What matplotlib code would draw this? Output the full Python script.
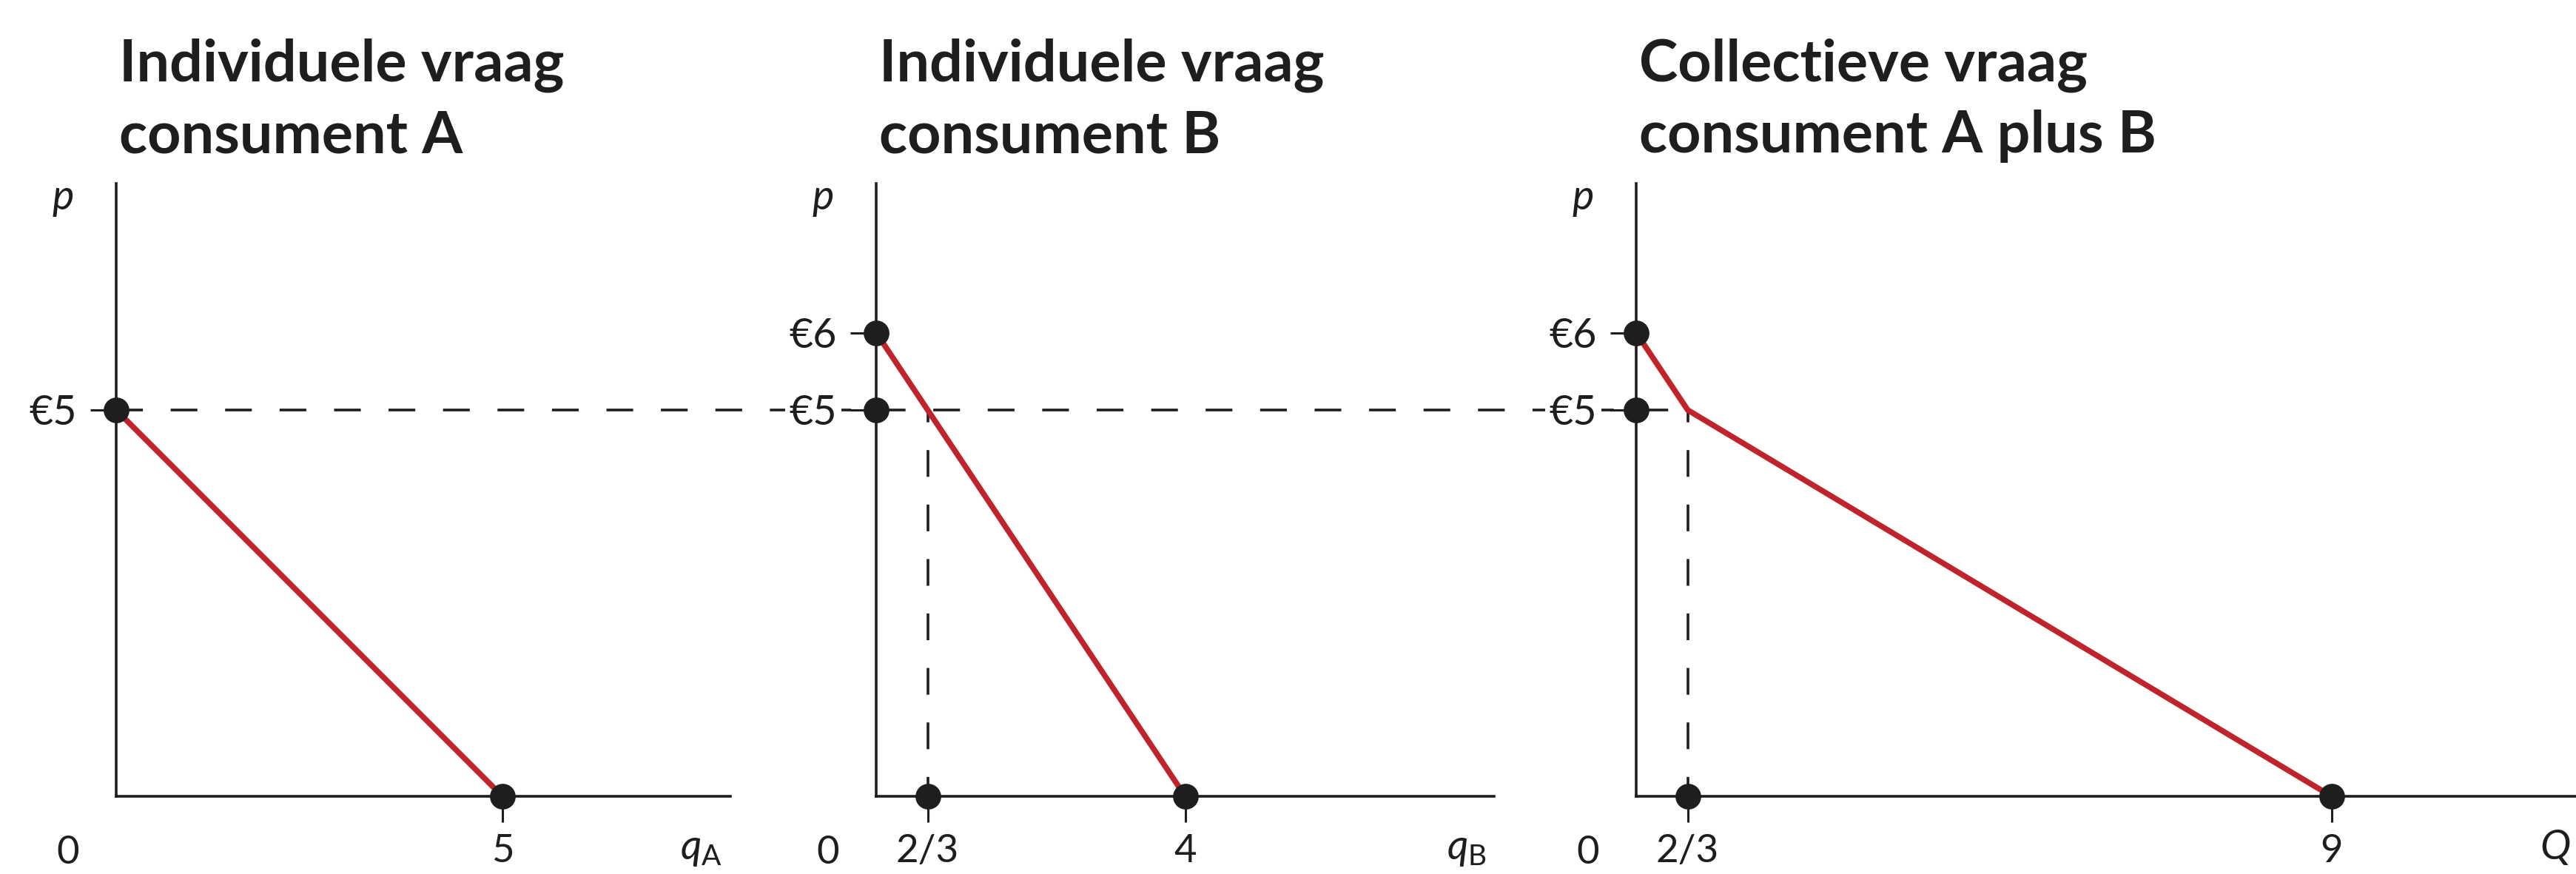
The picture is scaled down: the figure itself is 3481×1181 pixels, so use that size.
"""
Individuele en collectieve vraag: drie panelen naast elkaar.
Consument A, consument B en de horizontale optelling A plus B.
"""

import matplotlib.pyplot as plt
from matplotlib.lines import Line2D

# ─── Data ────────────────────────────────────────────────────────────────────
TITLES = [
    "Individuele vraag\nconsument A",
    "Individuele vraag\nconsument B",
    "Collectieve vraag\nconsument A plus B",
]
Q_NAMES = [r"$q_\mathrm{A}$", r"$q_\mathrm{B}$", r"$Q$"]

# demand curves (quantity, price)
DEMAND_A_Q = [0, 5]
DEMAND_A_P = [5, 0]
DEMAND_B_Q = [0, 4]
DEMAND_B_P = [6, 0]
DEMAND_AB_Q = [0, 2 / 3, 9]
DEMAND_AB_P = [6, 5, 0]

# marked prices on the p-axis
P_TICKS_A = [5]
P_TICKS_B = [6, 5]
P_TICKS_AB = [6, 5]
P_LABELS_A = ["€5"]
P_LABELS_B = ["€6", "€5"]
P_LABELS_AB = ["€6", "€5"]

# marked quantities on the q-axis
Q_TICKS_A = [5]
Q_TICKS_B = [2 / 3, 4]
Q_TICKS_AB = [2 / 3, 9]
Q_LABELS_A = ["5"]
Q_LABELS_B = ["2/3", "4"]
Q_LABELS_AB = ["2/3", "9"]

# price where B starts buying; the dashed guide runs at this level
P_KINK = 5
Q_KINK = 2 / 3

# ─── Style ───────────────────────────────────────────────────────────────────
INK = "#1e1e1e"
RED = "#c1232b"
W_PX, H_PX, DPI = 3481, 1181, 100
UNIT_PX = 104.4                     # pixels per unit on both axes
BASE_PX = 1076                      # x-axis line, from the top
AXES_LEFT_PX = [157, 1184, 2211]
X_MAX = [7.95, 8.0, 12.2]
Y_MAX = 7.93

plt.rcParams["font.family"] = ["Lato", "DejaVu Sans"]
plt.rcParams["lines.scale_dashes"] = False
plt.rcParams["mathtext.fontset"] = "custom"
plt.rcParams["mathtext.it"] = "Lato:italic"
plt.rcParams["mathtext.rm"] = "Lato"
plt.rcParams["mathtext.default"] = "it"

DASH = (0, (26, 27))


def make_axes(fig, i):
    left = AXES_LEFT_PX[i] / W_PX
    bottom = (H_PX - BASE_PX) / H_PX
    ax = fig.add_axes([left, bottom, X_MAX[i] * UNIT_PX / W_PX, Y_MAX * UNIT_PX / H_PX])
    ax.set_xlim(0, X_MAX[i])
    ax.set_ylim(0, Y_MAX)
    ax.patch.set_visible(False)
    for side in ("top", "right"):
        ax.spines[side].set_visible(False)
    for side in ("left", "bottom"):
        ax.spines[side].set_linewidth(2.6)
        ax.spines[side].set_color(INK)
        ax.spines[side].set_capstyle("projecting")
    ax.tick_params(direction="out", length=25, width=2.2, color=INK,
                   labelsize=38, labelcolor=INK)
    ax.tick_params(axis="y", pad=13, labelsize=40)
    ax.tick_params(axis="x", pad=12)
    return ax


def main():
    fig = plt.figure(figsize=(W_PX / DPI, H_PX / DPI), dpi=DPI)

    panels = [
        (DEMAND_A_Q, DEMAND_A_P, P_TICKS_A, P_LABELS_A, Q_TICKS_A, Q_LABELS_A),
        (DEMAND_B_Q, DEMAND_B_P, P_TICKS_B, P_LABELS_B, Q_TICKS_B, Q_LABELS_B),
        (DEMAND_AB_Q, DEMAND_AB_P, P_TICKS_AB, P_LABELS_AB, Q_TICKS_AB, Q_LABELS_AB),
    ]
    axes = [make_axes(fig, i) for i in range(3)]

    for i, (ax, (dq, dp, pt, pl, qt, ql)) in enumerate(zip(axes, panels)):
        ax.set_yticks(pt, pl)
        ax.set_xticks(qt, ql)
        for lbl in ax.get_yticklabels():
            lbl.set_bbox(dict(facecolor="white", edgecolor="none", pad=4))

        # demand curve
        ax.plot(dq, dp, color=RED, linewidth=5.5, solid_joinstyle="miter",
                solid_capstyle="butt", zorder=3, clip_on=False)

        # points on both axes
        ax.plot([0] * len(pt), pt, "o", color=INK, markersize=24,
                zorder=5, clip_on=False)
        ax.plot(qt, [0] * len(qt), "o", color=INK, markersize=24,
                zorder=5, clip_on=False)

        # vertical guide down from the kink
        if i > 0:
            ax.plot([Q_KINK, Q_KINK], [P_KINK, 0], color=INK, linewidth=2.6,
                    linestyle=(14, (26, 27)), zorder=2)

        # axis names and origin
        ax.annotate("p", xy=(0, Y_MAX), xytext=(-52, -25), textcoords="offset points",
                    ha="center", va="baseline", fontsize=40, style="italic", color=INK)
        ax.annotate(Q_NAMES[i], xy=(X_MAX[i], 0), xytext=(-8, -61),
                    textcoords="offset points", ha="right", va="baseline",
                    fontsize=40, color=INK)
        ax.annotate("0", xy=(0, 0), xytext=(-47, -38), textcoords="offset points",
                    ha="center", va="top", fontsize=38, color=INK)

        # title, baseline of its last line just above the p-axis
        ax.annotate(TITLES[i], xy=(0, Y_MAX), xytext=(3, 30), textcoords="offset points",
                    ha="left", va="baseline", fontsize=57, fontweight="bold",
                    color=INK, linespacing=1.4)

    # horizontal guide at the common price, from panel A to the kink in A plus B
    ax_a, ax_ab = axes[0], axes[2]
    x_end = ax_a.transData.inverted().transform(
        ax_ab.transData.transform((Q_KINK, P_KINK)))[0]
    guide = Line2D([0, x_end], [P_KINK, P_KINK], color=INK, linewidth=2.6,
                   linestyle=DASH, zorder=1, clip_on=False)
    guide.set_dash_capstyle("butt")
    ax_a.add_line(guide)

    fig.savefig("out.png", dpi=DPI, facecolor="white")
    plt.close(fig)


if __name__ == "__main__":
    main()
